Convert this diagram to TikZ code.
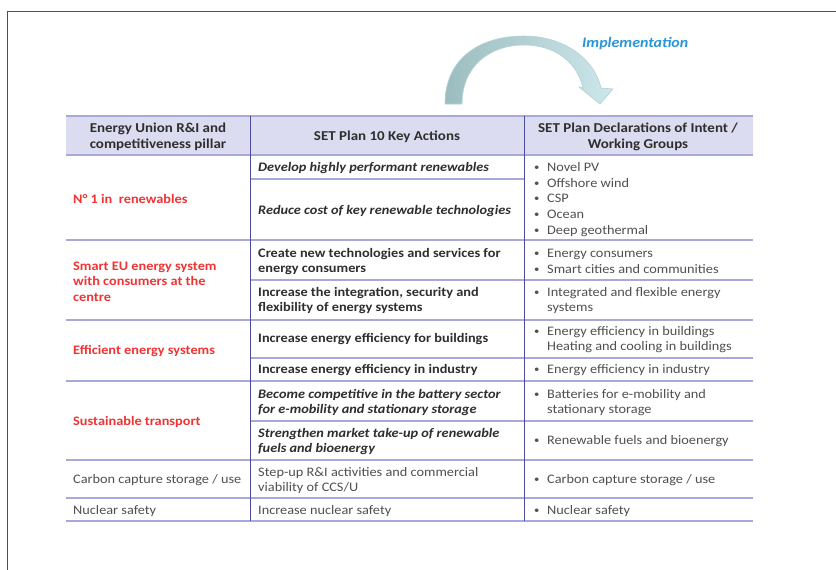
\documentclass[tikz,border=0pt]{standalone}
\usepackage{fontspec}
\setmainfont{Carlito}[FakeStretch=1.1]
\definecolor{framec}{HTML}{505050}
\definecolor{hdrfill}{HTML}{DCDCF0}
\definecolor{hline}{HTML}{A8A8DA}
\definecolor{vline}{HTML}{4C4C9E}
\definecolor{pillar}{HTML}{F03434}
\definecolor{darktxt}{HTML}{2E2E2E}
\definecolor{graytxt}{HTML}{505050}
\definecolor{arrowL}{HTML}{9CBDBF}
\definecolor{arrowR}{HTML}{CDE7EB}
\definecolor{arrowEdge}{HTML}{B4D2D6}
\definecolor{implc}{HTML}{2A96D8}
\tikzset{
  cell/.style={inner sep=0pt, anchor=west, align=left, font=\fontsize{13}{15.6}\selectfont},
  hdrtxt/.style={inner sep=0pt, align=center, text=darktxt, font=\fontsize{13.6}{15.6}\selectfont\bfseries},
  pill/.style={cell, text=pillar, font=\fontsize{13}{15.6}\selectfont\bfseries},
  plain/.style={cell, text=graytxt},
  act/.style={cell, text=darktxt, font=\fontsize{13}{15.6}\selectfont\bfseries},
  acti/.style={cell, text=darktxt, font=\fontsize{13}{15.6}\selectfont\bfseries\itshape},
  hrule/.style={draw=hline, line width=1.5pt},
  vrule/.style={draw=vline, line width=0.9pt},
}
\newcommand{\bul}{\makebox[13pt][l]{\raisebox{0.08em}{\scalebox{0.75}{•}}}}
\newcommand{\nobul}{\hspace*{13pt}}
\begin{document}
\begin{tikzpicture}[x=1pt,y=-1pt]
\useasboundingbox (0,0) rectangle (836,570);
\fill[white] (0,0) rectangle (836,570);
% outer frame
\draw[framec, line width=1pt] (7,570) -- (7,11) -- (836,11);
% implementation arrow
\shade[left color=arrowL, right color=arrowR, draw=arrowEdge, line width=0.6pt]
  (445,104) .. controls (445,58) and (480,36) .. (524,36)
  .. controls (565,36) and (595,60) .. (601,88)
  -- (613,89) -- (600,104) -- (579,87) -- (583,88)
  .. controls (577,62) and (555,45) .. (524,45)
  .. controls (490,45) and (462,66) .. (462,104) -- cycle;
\node[inner sep=0pt, anchor=west, text=implc, font=\fontsize{14.5}{16}\selectfont\bfseries\itshape] (impl) at (582,44) {Implementation};
% header background
\fill[hdrfill] (66,116) rectangle (753,155);
% horizontal rules
\foreach \yy in {116,155,240,320,381,460,498,521}
  \draw[hrule] (66,\yy) -- (753,\yy);
\foreach \yy in {280,358,421}
  \draw[hrule] (250,\yy) -- (753,\yy);
\draw[hrule] (250,179) -- (524,179);
% vertical rules
\draw[vrule] (250,116) -- (250,521);
\draw[vrule] (524,116) -- (524,521);
% header texts
\node[hdrtxt] (h1) at (158,137) {Energy Union R\&I and\\competitiveness pillar};
\node[hdrtxt] (h2) at (387,137) {SET Plan 10 Key Actions};
\node[hdrtxt] (h3) at (638,137) {SET Plan Declarations of Intent /\\Working Groups};
% pillars
\node[pill] (p1) at (73,198.5) {N° 1 in \ renewables};
\node[pill] (p2) at (73,281.5) {Smart EU energy system\\with consumers at the\\centre};
\node[pill] (p3) at (73,351.5) {Efficient energy systems};
\node[pill] (p4) at (73,421.5) {Sustainable transport};
\node[plain] (p5) at (73,480.5) {Carbon capture storage / use};
\node[plain] (p6) at (73,511.5) {Nuclear safety};
% key actions
\node[acti] (a1) at (258,168.5) {Develop highly performant renewables};
\node[acti] (a2) at (258,211.5) {Reduce cost of key renewable technologies};
\node[act] (a3) at (258,261.5) {Create new technologies and services for\\energy consumers};
\node[act] (a4) at (258,300.5) {Increase the integration, security and\\flexibility of energy systems};
\node[act] (a5) at (258,339.5) {Increase energy efficiency for buildings};
\node[act] (a6) at (258,370.5) {Increase energy efficiency in industry};
\node[acti] (a7) at (258,402.5) {Become competitive in the battery sector\\for e-mobility and stationary storage};
\node[acti] (a8) at (258,441.5) {Strengthen market take-up of renewable\\fuels and bioenergy};
\node[plain] (a9) at (258,480.5) {Step-up R\&I activities and commercial\\viability of CCS/U};
\node[plain] (a10) at (258,511.5) {Increase nuclear safety};
% declarations of intent
\node[plain] (d1) at (534,199.5) {\bul Novel PV\\\bul Offshore wind\\\bul CSP\\\bul Ocean\\\bul Deep geothermal};
\node[plain] (d2) at (534,261.5) {\bul Energy consumers\\\bul Smart cities and communities};
\node[plain] (d3) at (534,300.5) {\bul Integrated and flexible energy\\\nobul systems};
\node[plain] (d4) at (534,339.5) {\bul Energy efficiency in buildings\\\nobul Heating and cooling in buildings};
\node[plain] (d5) at (534,370.5) {\bul Energy efficiency in industry};
\node[plain] (d6) at (534,402.5) {\bul Batteries for e-mobility and\\\nobul stationary storage};
\node[plain] (d7) at (534,441.5) {\bul Renewable fuels and bioenergy};
\node[plain] (d8) at (534,480.5) {\bul Carbon capture storage / use};
\node[plain] (d9) at (534,511.5) {\bul Nuclear safety};
\end{tikzpicture}
\end{document}
